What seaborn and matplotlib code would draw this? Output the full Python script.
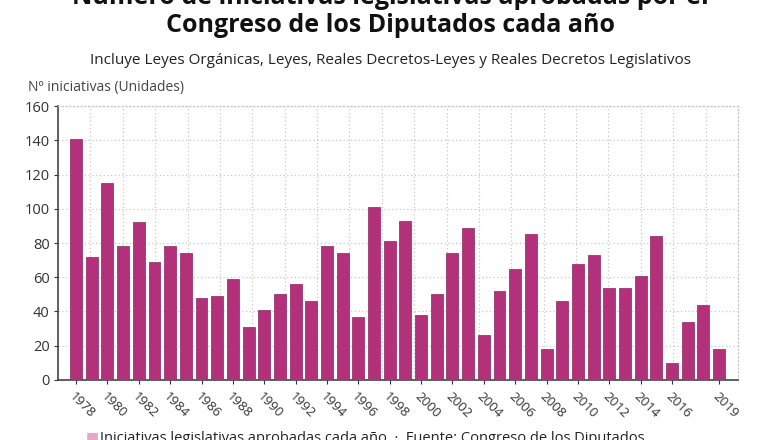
import numpy as np
import pandas as pd
import matplotlib
matplotlib.use("Agg")
import matplotlib.pyplot as plt
import seaborn as sns

# data
years = list(range(1978, 2020))
iniciativas = [141, 72, 115, 78, 92, 69, 78, 74, 48, 49,
               59, 31, 41, 50, 56, 46, 78, 74, 37, 101,
               81, 93, 38, 50, 74, 89, 26, 52, 65, 85,
               18, 46, 68, 73, 54, 54, 61, 84, 10, 34,
               44, 18]
tick_pos = list(range(0, 39, 2)) + [41]
tick_labels = ["1978", "1980", "1982", "1984", "1986", "1988", "1990", "1992",
               "1994", "1996", "1998", "2000", "2002", "2004", "2006", "2008",
               "2010", "2012", "2014", "2016", "2019"]

df = pd.DataFrame({"year": [str(y) for y in years], "n": iniciativas})

sns.set_style("white")
plt.rcParams["font.family"] = ["Open Sans", "DejaVu Sans"]

fig = plt.figure(figsize=(7.8, 4.4), dpi=100)
ax = fig.add_axes([0.0744, 0.1364, 0.8716, 0.6226])

bar_color = "#b3317b"
sns.barplot(data=df, x="year", y="n", color=bar_color, saturation=1,
            width=0.76, edgecolor="#8c2360", linewidth=0.5, ax=ax, zorder=3)

x0, x1 = -1.15, 42.2
ax.set_xlim(x0, x1)
ax.set_ylim(0, 160)
ax.set_yticks(range(0, 161, 20))
ax.set_xticks(tick_pos)
ax.set_xticklabels(tick_labels, rotation=-45, ha="left", va="top",
                   rotation_mode="anchor", fontsize=9.5, color="#333333")
ax.set_xticks(np.linspace(x0, x1, 22)[1:-1], minor=True)
ax.tick_params(axis="x", which="minor", length=0)
ax.tick_params(axis="x", which="major", length=3, width=0.8, color="#333333",
               direction="out", bottom=True, pad=4)
ax.tick_params(axis="y", length=3, width=0.8, color="#333333", left=True,
               labelsize=10.5, labelcolor="#333333", pad=3)

ax.grid(False)
ax.grid(axis="y", which="major", linestyle=(0, (1, 2)), color="#c8c8c8", linewidth=0.9, zorder=0)
ax.grid(axis="x", which="minor", linestyle=(0, (1, 2)), color="#c8c8c8", linewidth=0.9, zorder=0)
ax.set_axisbelow(True)

for side in ["left", "bottom"]:
    ax.spines[side].set_linestyle((0, (1, 1)))
    ax.spines[side].set_color("#444444")
    ax.spines[side].set_linewidth(1.2)
for side in ["top", "right"]:
    ax.spines[side].set_linestyle((0, (1, 2)))
    ax.spines[side].set_color("#c8c8c8")
    ax.spines[side].set_linewidth(0.9)

ax.set_xlabel("")
ax.set_ylabel("")

fig.text(0.5, 1.0 + 2 / 440, "Número de iniciativas legislativas aprobadas por el",
         ha="center", va="center", fontsize=18, fontweight="bold", color="#111111")
fig.text(0.5, 1 - 25 / 440, "Congreso de los Diputados cada año",
         ha="center", va="center", fontsize=18, fontweight="bold", color="#111111")
fig.text(0.5, 1 - 60 / 440,
         "Incluye Leyes Orgánicas, Leyes, Reales Decretos-Leyes y Reales Decretos Legislativos",
         ha="center", va="center", fontsize=11, color="#222222")
fig.text(28 / 780, 1 - 87 / 440, "Nº iniciativas (Unidades)",
         ha="left", va="center", fontsize=10, color="#444444")

# bottom legend line, cut off by the picture edge as in the reference
fig.text(86 / 780, 2 / 440, "■", ha="left", va="center", fontsize=10, color="#e8a6c8")
fig.text(100 / 780, 2 / 440,
         "Iniciativas legislativas aprobadas cada año  ·  Fuente: Congreso de los Diputados",
         ha="left", va="center", fontsize=10.5, color="#222222")

fig.savefig("out.png", dpi=100)
